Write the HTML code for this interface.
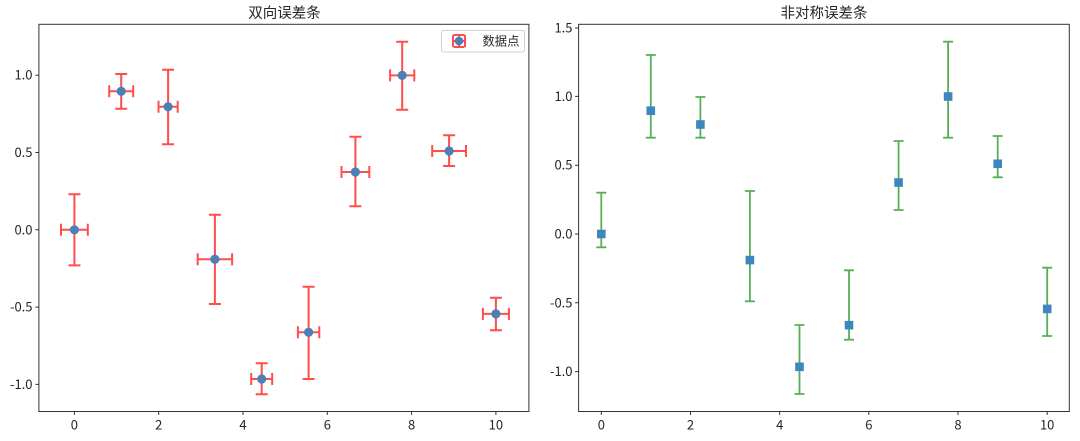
<!DOCTYPE html>
<html><head><meta charset="utf-8"><style>
html,body{margin:0;padding:0;background:#fff;}
svg{display:block;}
text{font-family:"WenQuanYi Zen Hei","Noto Sans CJK SC",sans-serif;fill:#262626;}
.t{font-size:13px;}
.lg{font-size:12.3px;}
.ttl{font-size:14.5px;}
</style></head><body>
<svg width="1080" height="441" viewBox="0 0 1080 441" xmlns="http://www.w3.org/2000/svg">
<rect width="1080" height="441" fill="#fff"/>
<!-- LEFT -->
<text class="ttl" x="284.5" y="18" text-anchor="middle">双向误差条</text>
<g stroke="#ff4d4d" stroke-width="2" fill="none">
<path d="M74.4 194.2V265.4M68.4 194.2H80.4M68.4 265.4H80.4M61 229.8H87.8M61 223.8V235.8M87.8 223.8V235.8"/>
<path d="M121.2 74V108.7M115.2 74H127.2M115.2 108.7H127.2M109.2 91.3H133.2M109.2 85.3V97.3M133.2 85.3V97.3"/>
<path d="M168.1 69.7V144.3M162.1 69.7H174.1M162.1 144.3H174.1M158.5 106.8H177.7M158.5 100.8V112.8M177.7 100.8V112.8"/>
<path d="M214.9 214.7V304M208.9 214.7H220.9M208.9 304H220.9M197.7 259.2H232.1M197.7 253.2V265.2M232.1 253.2V265.2"/>
<path d="M261.7 363.3V394.3M255.7 363.3H267.7M255.7 394.3H267.7M251.2 379H272.2M251.2 373V385M272.2 373V385"/>
<path d="M308.6 286.7V379M302.6 286.7H314.6M302.6 379H314.6M297.9 332.3H319.3M297.9 326.3V338.3M319.3 326.3V338.3"/>
<path d="M355.4 136.7V206.3M349.4 136.7H361.4M349.4 206.3H361.4M341.5 172H369.3M341.5 166V178M369.3 166V178"/>
<path d="M402.2 41.7V109.7M396.2 41.7H408.2M396.2 109.7H408.2M390.1 75.4H414.3M390.1 69.4V81.4M414.3 69.4V81.4"/>
<path d="M449.1 135.3V166M443.1 135.3H455.1M443.1 166H455.1M432.2 151H466M432.2 145V157M466 145V157"/>
<path d="M495.9 297.7V330.3M489.9 297.7H501.9M489.9 330.3H501.9M482.9 313.9H508.9M482.9 307.9V319.9M508.9 307.9V319.9"/>
</g>
<g fill="#4b7fb6">
<circle cx="74.4" cy="229.8" r="4.6"/><circle cx="121.2" cy="91.3" r="4.6"/><circle cx="168.1" cy="106.8" r="4.6"/>
<circle cx="214.9" cy="259.2" r="4.6"/><circle cx="261.7" cy="379" r="4.6"/><circle cx="308.6" cy="332.3" r="4.6"/>
<circle cx="355.4" cy="172" r="4.6"/><circle cx="402.2" cy="75.4" r="4.6"/><circle cx="449.1" cy="151" r="4.6"/>
<circle cx="495.9" cy="313.9" r="4.6"/>
</g>
<rect x="38.9" y="24.3" width="490" height="387.2" fill="none" stroke="#333" stroke-width="1"/>
<g stroke="#333" stroke-width="1">
<path d="M74.4 411.5V415M158.7 411.5V415M243 411.5V415M327.3 411.5V415M411.6 411.5V415M495.9 411.5V415"/>
<path d="M35.4 75.2H38.9M35.4 152.5H38.9M35.4 229.8H38.9M35.4 307.1H38.9M35.4 384.4H38.9"/>
</g>
<g class="t" text-anchor="middle">
<text x="74.4" y="429.5">0</text><text x="158.7" y="429.5">2</text><text x="243" y="429.5">4</text>
<text x="327.3" y="429.5">6</text><text x="411.6" y="429.5">8</text><text x="495.9" y="429.5">10</text>
</g>
<g class="t" text-anchor="end">
<text x="32.5" y="79.7">1.0</text><text x="32.5" y="157">0.5</text><text x="32.5" y="234.3">0.0</text>
<text x="32.5" y="311.6">-0.5</text><text x="32.5" y="388.9">-1.0</text>
</g>
<!-- legend -->
<rect x="441.5" y="30.5" width="83" height="21.5" rx="2" fill="#fff" fill-opacity="0.8" stroke="#d0d0d0"/>
<g stroke="#ff4d4d" stroke-width="2" fill="none">
<path d="M453 41H465M453 35V47M465 35V47M459 35V47M453.5 35H464.5M453.5 47H464.5"/>
</g>
<circle cx="459" cy="41" r="4.3" fill="#4b7fb6"/>
<text class="lg" x="482.5" y="45.5">数据点</text>

<!-- RIGHT -->
<text class="ttl" x="824" y="18" text-anchor="middle">非对称误差条</text>
<g stroke="#55b055" stroke-width="1.8" fill="none">
<path d="M601.3 192.7V247.3M596.3 192.7H606.3M596.3 247.3H606.3"/>
<path d="M650.8 55V137.7M645.8 55H655.8M645.8 137.7H655.8"/>
<path d="M700.4 97V137.7M695.4 97H705.4M695.4 137.7H705.4"/>
<path d="M749.9 191V301.3M744.9 191H754.9M744.9 301.3H754.9"/>
<path d="M799.5 325V394M794.5 325H804.5M794.5 394H804.5"/>
<path d="M849 270.3V339.7M844 270.3H854M844 339.7H854"/>
<path d="M898.6 141V210M893.6 141H903.6M893.6 210H903.6"/>
<path d="M948.1 41.7V137.7M943.1 41.7H953.1M943.1 137.7H953.1"/>
<path d="M997.7 136V177.3M992.7 136H1002.7M992.7 177.3H1002.7"/>
<path d="M1047.2 267.7V336M1042.2 267.7H1052.2M1042.2 336H1052.2"/>
</g>
<g fill="#3d86c0">
<rect x="597" y="229.7" width="8.6" height="8.6"/><rect x="646.5" y="106.4" width="8.6" height="8.6"/>
<rect x="696.1" y="120.2" width="8.6" height="8.6"/><rect x="745.6" y="255.8" width="8.6" height="8.6"/>
<rect x="795.2" y="362.5" width="8.6" height="8.6"/><rect x="844.7" y="320.9" width="8.6" height="8.6"/>
<rect x="894.3" y="178.2" width="8.6" height="8.6"/><rect x="943.8" y="92.2" width="8.6" height="8.6"/>
<rect x="993.4" y="159.5" width="8.6" height="8.6"/><rect x="1042.9" y="304.6" width="8.6" height="8.6"/>
</g>
<rect x="578.6" y="24.3" width="490.7" height="387.2" fill="none" stroke="#333" stroke-width="1"/>
<g stroke="#333" stroke-width="1">
<path d="M601.3 411.5V415M690.5 411.5V415M779.7 411.5V415M868.8 411.5V415M958 411.5V415M1047.2 411.5V415"/>
<path d="M575.1 28H578.6M575.1 96.4H578.6M575.1 165.2H578.6M575.1 234H578.6M575.1 302.8H578.6M575.1 371.6H578.6"/>
</g>
<g class="t" text-anchor="middle">
<text x="601.3" y="429.5">0</text><text x="690.5" y="429.5">2</text><text x="779.7" y="429.5">4</text>
<text x="868.8" y="429.5">6</text><text x="958" y="429.5">8</text><text x="1047.2" y="429.5">10</text>
</g>
<g class="t" text-anchor="end">
<text x="572.5" y="32.5">1.5</text><text x="572.5" y="100.9">1.0</text><text x="572.5" y="169.7">0.5</text>
<text x="572.5" y="238.5">0.0</text><text x="572.5" y="307.3">-0.5</text><text x="572.5" y="376.1">-1.0</text>
</g>
</svg>
</body></html>
